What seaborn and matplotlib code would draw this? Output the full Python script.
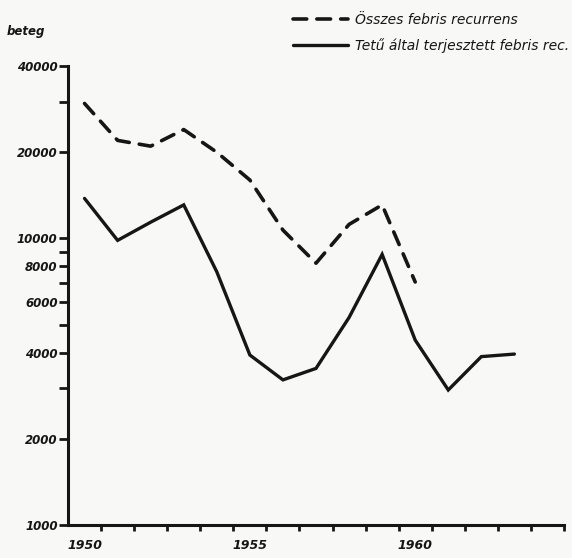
import matplotlib
matplotlib.use("Agg")
import matplotlib.pyplot as plt
import seaborn as sns
import pandas as pd

# Annual case counts (log scale)
years_total = [1950, 1951, 1952, 1953, 1954, 1955, 1956, 1957, 1958, 1959, 1960]
cases_total = [29600, 22000, 21000, 24000, 20000, 16000, 10700, 8200, 11200, 13100, 7050]

years_louse = [1950, 1951, 1952, 1953, 1954, 1955, 1956, 1957, 1958, 1959, 1960, 1961, 1962, 1963]
cases_louse = [13800, 9850, 11400, 13100, 7650, 3920, 3210, 3520, 5300, 8800, 4420, 2960, 3870, 3950]

label_total = "Összes febris recurrens"
label_louse = "Tetű által terjesztett febris rec."

y_ticks = [1000, 2000, 3000, 4000, 5000, 6000, 7000, 8000, 9000, 10000, 20000, 30000, 40000]
y_tick_labels = ["1000", "2000", "", "4000", "", "6000", "", "8000", "", "10000", "20000", "", "40000"]
x_label_years = [1950, 1955, 1960]
y_axis_title = "beteg"

df_total = pd.DataFrame({"year": years_total, "cases": cases_total})
df_louse = pd.DataFrame({"year": years_louse, "cases": cases_louse})

sns.set_style("white")
plt.rcParams["font.family"] = ["DejaVu Sans"]

ink = "#161616"
paper = "#f8f8f6"

fig = plt.figure(figsize=(5.72, 5.58), dpi=100, facecolor=paper)
ax = fig.add_axes([68 / 572, 1 - 525 / 558, (564 - 68) / 572, (525 - 66) / 558])
ax.set_facecolor(paper)

sns.lineplot(data=df_total, x="year", y="cases", ax=ax, color=ink, linewidth=2.6,
             linestyle=(0, (3.8, 2.8)), dash_capstyle="round", label=label_total, legend=False)
sns.lineplot(data=df_louse, x="year", y="cases", ax=ax, color=ink, linewidth=2.4,
             solid_joinstyle="miter", label=label_louse, legend=False)

ax.set_yscale("log")
ax.set_ylim(1000, 40000)
ax.set_xlim(1949.5, 1964.5)

ax.set_yticks(y_ticks)
ax.set_yticklabels(y_tick_labels)
ax.minorticks_off()
ax.tick_params(axis="y", which="major", left=True, direction="out", length=6.5, width=2.0,
               color=ink, pad=1, labelsize=8.5, labelcolor=ink)
for t in ax.get_yticklabels():
    t.set_fontstyle("italic")
    t.set_fontweight("bold")

# year boundaries as small ticks, year labels centred under the data points
x_bounds = [y + 0.5 for y in range(1950, 1965)]
ax.set_xticks(x_bounds, minor=True)
ax.set_xticks(x_label_years)
ax.set_xticklabels([str(y) for y in x_label_years])
ax.tick_params(axis="x", which="minor", bottom=True, direction="out", length=4.5, width=2.0, color=ink)
ax.tick_params(axis="x", which="major", bottom=True, length=0, pad=10, labelsize=9, labelcolor=ink)
for t in ax.get_xticklabels():
    t.set_fontstyle("italic")
    t.set_fontweight("bold")

ax.set_xlabel("")
ax.set_ylabel("")
sns.despine(ax=ax)
for s in ("left", "bottom"):
    ax.spines[s].set_linewidth(2.2)
    ax.spines[s].set_color(ink)

fig.text(7 / 572, 1 - 32 / 558, y_axis_title, fontsize=8.5, fontstyle="italic",
         fontweight="bold", color=ink, va="center", ha="left")

leg = fig.legend(handles=ax.get_lines()[:2], labels=[label_total, label_louse],
                 loc="upper right", bbox_to_anchor=(1.0, 0.982), frameon=False,
                 borderpad=0.2, borderaxespad=0.0,
                 handlelength=4.0, handletextpad=0.5, labelspacing=0.8,
                 prop={"style": "italic", "size": 10})
for t in leg.get_texts():
    t.set_color(ink)

fig.savefig("out.png", dpi=100, facecolor=paper)
